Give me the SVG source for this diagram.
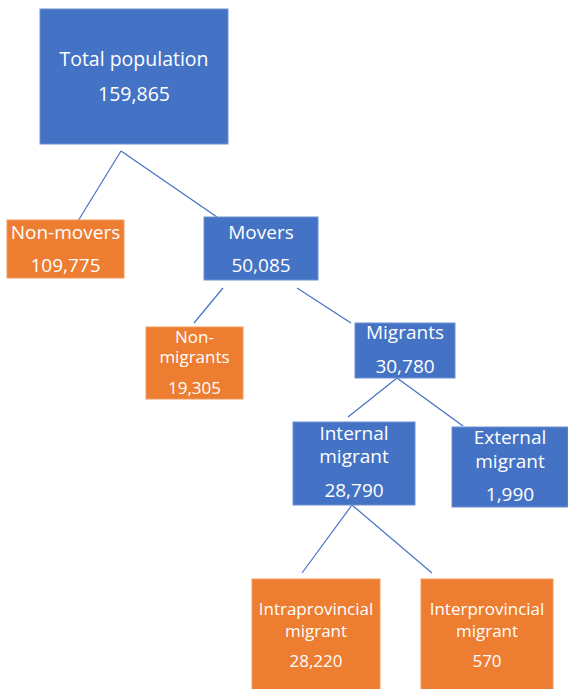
<svg xmlns="http://www.w3.org/2000/svg" width="568" height="689" viewBox="0 0 568 689">
<style>
.blue{fill:#4472C4;stroke:#6f90d0;stroke-width:1}
.orange{fill:#ED7D31;stroke:#f19a5c;stroke-width:1}
text{font-family:"Open Sans","Noto Sans",sans-serif;fill:#ffffff;text-anchor:middle}
.l{stroke:#4472C4;stroke-width:1.2;fill:none}
</style>
<rect width="568" height="689" fill="#ffffff"/>
<g id="connectors">
<line class="l" x1="121" y1="151" x2="78" y2="221"/>
<line class="l" x1="121" y1="151" x2="217" y2="217"/>
<line class="l" x1="223" y1="288" x2="194" y2="323"/>
<line class="l" x1="297" y1="288" x2="351" y2="323"/>
<line class="l" x1="397" y1="378" x2="348" y2="417"/>
<line class="l" x1="397" y1="378" x2="463" y2="426"/>
<line class="l" x1="352" y1="505" x2="302" y2="573"/>
<line class="l" x1="352" y1="505" x2="432" y2="573"/>
</g>
<g id="total">
<rect class="blue" x="40" y="9" width="188" height="135"/>
<text x="134" y="66" font-size="19.5">Total population</text>
<text x="134" y="101" font-size="19.5">159,865</text>
</g>
<g id="nonmovers">
<rect class="orange" x="7" y="220" width="117" height="58"/>
<text x="65.5" y="239" font-size="19">Non-movers</text>
<text x="65.5" y="272" font-size="19">109,775</text>
</g>
<g id="movers">
<rect class="blue" x="204" y="217" width="114" height="63"/>
<text x="261" y="239" font-size="19">Movers</text>
<text x="261" y="272" font-size="19">50,085</text>
</g>
<g id="nonmigrants">
<rect class="orange" x="146" y="327" width="97" height="72"/>
<text x="194.5" y="343" font-size="17">Non-</text>
<text x="194.5" y="363" font-size="17">migrants</text>
<text x="194.5" y="394" font-size="17">19,305</text>
</g>
<g id="migrants">
<rect class="blue" x="355" y="323" width="100" height="55"/>
<text x="405" y="339" font-size="19">Migrants</text>
<text x="405" y="373" font-size="19">30,780</text>
</g>
<g id="internal">
<rect class="blue" x="293" y="422" width="122" height="83"/>
<text x="354" y="440" font-size="19">Internal</text>
<text x="354" y="463" font-size="19">migrant</text>
<text x="354" y="497" font-size="19">28,790</text>
</g>
<g id="external">
<rect class="blue" x="452" y="427" width="116" height="80"/>
<text x="510" y="444" font-size="19">External</text>
<text x="510" y="468" font-size="19">migrant</text>
<text x="510" y="501" font-size="19">1,990</text>
</g>
<g id="intraprovincial">
<rect class="orange" x="252" y="579" width="128" height="112"/>
<text x="316" y="615" font-size="17">Intraprovincial</text>
<text x="316" y="637" font-size="17">migrant</text>
<text x="316" y="667" font-size="17">28,220</text>
</g>
<g id="interprovincial">
<rect class="orange" x="421" y="579" width="132" height="112"/>
<text x="487" y="615" font-size="17">Interprovincial</text>
<text x="487" y="637" font-size="17">migrant</text>
<text x="487" y="667" font-size="17">570</text>
</g>
</svg>
